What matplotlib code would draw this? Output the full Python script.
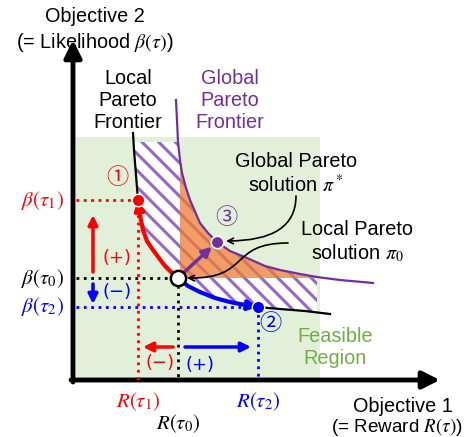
import numpy as np
import matplotlib
matplotlib.use("Agg")
import matplotlib.pyplot as plt
from matplotlib.path import Path
from matplotlib.patches import FancyArrowPatch, Rectangle

plt.rcParams['font.family'] = ['Liberation Sans', 'DejaVu Sans', 'Noto Sans CJK JP']
plt.rcParams['mathtext.fontset'] = 'stix'
plt.rcParams['hatch.linewidth'] = 2.2

# data space: origin at the corner of the two objective axes
# local Pareto frontier
local_x = [60, 61, 63, 65, 67, 70, 74, 80, 86, 92, 98, 105, 115, 127, 142, 157, 172, 185, 207, 232, 257]
local_y = [247, 230, 205, 180, 165, 150, 139, 130, 122, 114, 108, 102, 94, 88, 82, 78, 75, 73, 71, 69, 66]

# global Pareto frontier
glob_x = [103, 104, 105, 107, 109, 113, 117, 127, 135, 144, 157, 174, 192, 207, 227, 244, 267, 300]
glob_y = [280, 260, 238, 220, 207, 192, 180, 157, 147, 138, 129, 122, 114, 110, 106, 103, 100, 97]

# solutions: (R, beta)
pi0 = (105, 102)
tau1 = (65, 180)
tau2 = (185, 73)
pistar = (144, 138)

feasible_box = (3, 2, 247, 243)   # x0, y0, x1, y1
hatch_top = 238
hatch_right = 244

RED = '#ff0000'
BLUE = '#0000ff'
PURPLE = '#7030a0'
GREEN = '#70ad47'

fig = plt.figure(figsize=(4.67, 4.37), dpi=100)
ax = fig.add_axes([0, 0, 1, 1])
ax.set_xlim(-73, 394)
ax.set_ylim(-57, 380)
ax.axis('off')

lx = np.array(local_x); ly = np.array(local_y)
gx = np.array(glob_x); gy = np.array(glob_y)

# feasible region
ax.add_patch(Rectangle((feasible_box[0], feasible_box[1]),
                       feasible_box[2] - feasible_box[0], feasible_box[3] - feasible_box[1],
                       facecolor='#e2f0d9', edgecolor='none', zorder=1))

# hatched gap between local and global frontier
sel_g = (gx >= 105) & (gx <= hatch_right)
sel_l = (lx >= 61) & (lx <= hatch_right)
top_x = np.concatenate([[61.5], gx[sel_g], [hatch_right]])
top_y = np.concatenate([[hatch_top], gy[sel_g], [103]])
bot_x = np.concatenate([[hatch_right], lx[sel_l][::-1]])
bot_y = np.concatenate([[67], ly[sel_l][::-1]])
ax.fill(np.concatenate([top_x, bot_x]), np.concatenate([top_y, bot_y]),
        facecolor='white', edgecolor='#9966cc', hatch='\\\\', linewidth=0, zorder=2)

# region dominating pi0
sel_o = (gx >= pi0[0] + 2) & (gy >= pi0[1])
ax.fill_between(gx[sel_o], pi0[1], gy[sel_o], facecolor='#ed7d31', alpha=0.75,
                edgecolor='none', zorder=3)

# frontiers
ax.plot(gx, gy, color=PURPLE, lw=1.6, zorder=4)
ax.plot(lx, ly, color='black', lw=1.6, zorder=4)

# dotted guides
for (px, py), c in [(tau1, RED), (pi0, 'black'), (tau2, BLUE)]:
    ax.plot([3, px], [py, py], ls=':', lw=2, color=c, zorder=5)
    ax.plot([px, px], [py, 0], ls=':', lw=2, color=c, zorder=5)

# moves along the local frontier
i0 = local_x.index(pi0[0])
i1 = local_x.index(tau1[0])
i2 = local_x.index(tau2[0])
red_path = Path(list(zip(lx[i1:i0 + 1][::-1], ly[i1:i0 + 1][::-1])))
blue_path = Path(list(zip(lx[i0:i2 + 1], ly[i0:i2 + 1])))
for p, c in [(red_path, RED), (blue_path, BLUE)]:
    ax.add_patch(FancyArrowPatch(path=p, arrowstyle='-|>', mutation_scale=14,
                                 lw=3, color=c, shrinkA=0, shrinkB=5, zorder=6))

# move to the global solution
ax.annotate('', xy=pistar, xytext=pi0,
            arrowprops=dict(arrowstyle='-|>', lw=2.5, color=PURPLE, mutation_scale=14,
                            shrinkA=6, shrinkB=5), zorder=6)

# points
ax.plot(*tau1, 'o', ms=9, color=RED, mec='white', mew=1, zorder=7)
ax.plot(*tau2, 'o', ms=9, color=BLUE, mec='white', mew=1, zorder=7)
ax.plot(*pistar, 'o', ms=9, color=PURPLE, mec='white', mew=1.2, zorder=7)
ax.plot(*pi0, 'o', ms=11, color='white', mec='black', mew=1.8, zorder=7)

# objective axes
ax.annotate('', xy=(0, 340), xytext=(0, -2),
            arrowprops=dict(arrowstyle='-|>', lw=3.5, color='black', mutation_scale=26,
                            shrinkA=0, shrinkB=0))
ax.annotate('', xy=(367, 0), xytext=(-2, 0),
            arrowprops=dict(arrowstyle='-|>', lw=3.5, color='black', mutation_scale=26,
                            shrinkA=0, shrinkB=0))

# small direction arrows
akw = dict(arrowstyle='-|>', lw=2.5, mutation_scale=14, shrinkA=0, shrinkB=0)
ax.annotate('', xy=(20, 165), xytext=(20, 108), arrowprops=dict(color=RED, **akw))
ax.annotate('', xy=(20, 76), xytext=(20, 96), arrowprops=dict(color=BLUE, **akw))
ax.annotate('', xy=(70, 33), xytext=(100, 33), arrowprops=dict(color=RED, **akw))
ax.annotate('', xy=(178, 33), xytext=(112, 33), arrowprops=dict(color=BLUE, **akw))

fs = 14.3
sym = ['DejaVu Sans']
ax.text(44, 122, '(+)', color=RED, fontsize=13, family=sym, ha='center', va='center')
ax.text(44, 88, '(\u2212)', color=BLUE, fontsize=13, family=sym, ha='center', va='center')
ax.text(87, 17, '(\u2212)', color=RED, fontsize=13, family=sym, ha='center', va='center')
ax.text(127, 15, '(+)', color=BLUE, fontsize=13, family=sym, ha='center', va='center')

circ = ['Noto Sans CJK JP', 'DejaVu Sans']
ax.text(44, 202, '\u2460', color=RED, fontsize=16, family=circ, ha='center', va='center')
ax.text(197, 57, '\u2461', color=BLUE, fontsize=16, family=circ, ha='center', va='center')
ax.text(153, 163, '\u2462', color=PURPLE, fontsize=16, family=circ, ha='center', va='center')

# annotations for the two solutions
ax.annotate('', xy=(pistar[0] + 9, pistar[1] + 1), xytext=(223, 184),
            arrowprops=dict(arrowstyle='->', lw=1.2, color='black', shrinkA=0, shrinkB=0,
                            connectionstyle='angle3,angleA=-90,angleB=0'))
s_path = Path([(215, 137), (155, 137), (178, 101), (114, 102)],
              [Path.MOVETO, Path.CURVE4, Path.CURVE4, Path.CURVE4])
ax.add_patch(FancyArrowPatch(path=s_path, arrowstyle='->', mutation_scale=10, lw=1.2,
                             color='black', shrinkA=0, shrinkB=0, zorder=8))

# labels
ax.text(22, 363, 'Objective 2', fontsize=fs, ha='center', va='center')
ax.text(22, 338, r'(= Likelihood $\beta(\tau)$)', fontsize=fs, ha='center', va='center')
ax.text(330, -26, 'Objective 1', fontsize=fs, ha='center', va='center')
ax.text(390, -47, r'(= Reward $R(\tau)$)', fontsize=13.6, ha='right', va='center')

ls = 1.2
ax.text(55, 280, 'Local\nPareto\nFrontier', fontsize=fs, ha='center', va='center',
        linespacing=ls)
ax.text(157, 280, 'Global\nPareto\nFrontier', fontsize=fs, ha='center', va='center',
        linespacing=ls, color=PURPLE)
ax.text(223, 206, 'Global Pareto\nsolution $\\pi^*$', fontsize=fs, ha='center', va='center',
        linespacing=ls)
ax.text(284, 138, 'Local Pareto\nsolution $\\pi_0$', fontsize=fs, ha='center', va='center',
        linespacing=ls)
ax.text(262, 33, 'Feasible\nRegion', fontsize=fs, ha='center', va='center',
        linespacing=ls, color=GREEN)

ms = 15
ax.text(-9, tau1[1], r'$\beta(\tau_1)$', fontsize=ms, color=RED, ha='right', va='center')
ax.text(-9, pi0[1], r'$\beta(\tau_0)$', fontsize=ms, color='black', ha='right', va='center')
ax.text(-9, tau2[1], r'$\beta(\tau_2)$', fontsize=ms, color=BLUE, ha='right', va='center')
ax.text(tau1[0], -22, r'$R(\tau_1)$', fontsize=ms, color=RED, ha='center', va='center')
ax.text(tau2[0], -22, r'$R(\tau_2)$', fontsize=ms, color=BLUE, ha='center', va='center')
ax.text(pi0[0], -44, r'$R(\tau_0)$', fontsize=ms, color='black', ha='center', va='center')

fig.savefig('out.png', dpi=100)
